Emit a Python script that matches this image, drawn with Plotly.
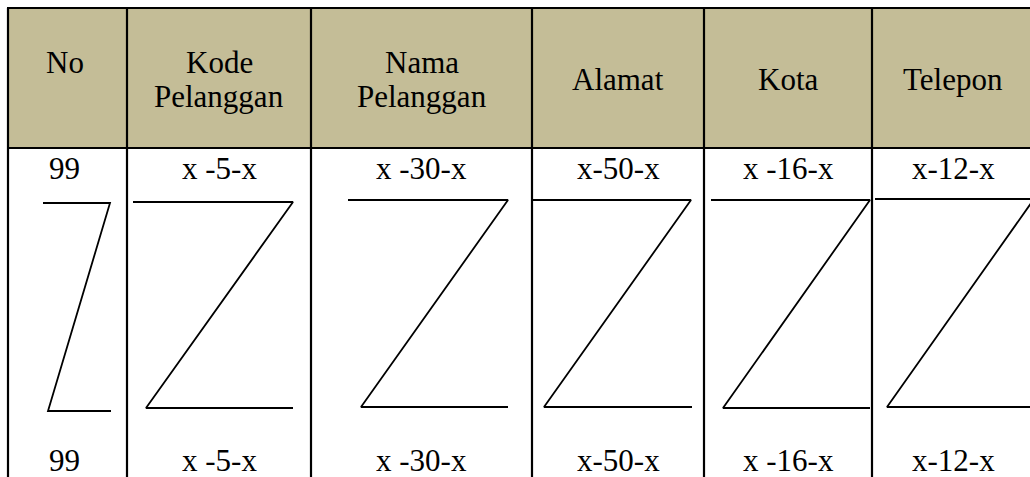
import plotly.graph_objects as go

# ---- data ----
headers = [["No"], ["Kode", "Pelanggan"], ["Nama", "Pelanggan"], ["Alamat"], ["Kota"], ["Telepon"]]
header_top_aligned = [True, True, True, False, False, False]
first_row = ["99", "x -5-x", "x -30-x", "x-50-x", "x -16-x", "x-12-x"]
last_row = ["99", "x -5-x", "x -30-x", "x-50-x", "x -16-x", "x-12-x"]

# table geometry (pixel-like units)
col_edges = [8, 127, 311, 532, 704, 872, 1034]
table_top = 8
header_bottom = 148
table_bottom = 477

# Z-shape geometry per column
z_top_y = [203, 202, 200, 200, 200, 199]
z_top_x0 = [43, 133, 348, 533, 711, 875]
z_top_x1 = [110, 293, 508, 691, 870, 1034]
z_bot_y = [411, 408, 407, 407, 408, 407]
z_bot_x0 = [48, 146, 361, 544, 723, 887]
z_bot_x1 = [111, 293, 508, 692, 870, 1034]

header_fill = "#C4BD97"
FONT = "Liberation Serif"
FS = 31

fig = go.Figure()

# Z shapes as line traces
for i in range(len(z_top_y)):
    fig.add_trace(go.Scatter(
        x=[z_top_x0[i], z_top_x1[i], z_bot_x0[i], z_bot_x1[i]],
        y=[z_top_y[i], z_top_y[i], z_bot_y[i], z_bot_y[i]],
        mode="lines", line=dict(color="black", width=1.8),
        hoverinfo="skip", showlegend=False,
    ))

shapes = []
# header background
shapes.append(dict(type="rect", xref="x", yref="y", x0=col_edges[0], x1=col_edges[-1],
                   y0=table_top, y1=header_bottom, fillcolor=header_fill,
                   line=dict(width=0), layer="below"))
# horizontal borders
for yy in [table_top, header_bottom]:
    shapes.append(dict(type="line", xref="x", yref="y", x0=col_edges[0] - 1, x1=col_edges[-1],
                       y0=yy, y1=yy, line=dict(color="black", width=2.2)))
# vertical borders
for xx in col_edges[:-1]:
    shapes.append(dict(type="line", xref="x", yref="y", x0=xx, x1=xx,
                       y0=table_top, y1=table_bottom + 2, line=dict(color="black", width=2.2)))

annotations = []
centers = [(col_edges[i] + col_edges[i + 1]) / 2 for i in range(len(headers))]


def add_text(x, y, t):
    annotations.append(dict(x=x, y=y, xref="x", yref="y", text=t, showarrow=False,
                            xanchor="center", yanchor="middle",
                            font=dict(family=FONT, size=FS, color="black")))


for i, h in enumerate(headers):
    if header_top_aligned[i]:
        ys = [62, 96.5]
    else:
        ys = [79]
    for txt, yy in zip(h, ys):
        add_text(centers[i] - (3 if i == 0 else 0), yy, txt)
for i, t in enumerate(first_row):
    add_text(centers[i] - (3 if i == 0 else 0), 168, t)
for i, t in enumerate(last_row):
    add_text(centers[i] - (3 if i == 0 else 0), 460, t)

fig.update_layout(
    width=1030, height=477,
    margin=dict(l=0, r=0, t=0, b=0),
    paper_bgcolor="white", plot_bgcolor="white",
    xaxis=dict(range=[0, 1030], visible=False, fixedrange=True),
    yaxis=dict(range=[477, 0], visible=False, fixedrange=True),
    shapes=shapes, annotations=annotations, showlegend=False,
)

fig.write_html("out.html", config={"displayModeBar": False},
               post_script="document.body.style.margin='0px';document.body.style.overflow='hidden';")
